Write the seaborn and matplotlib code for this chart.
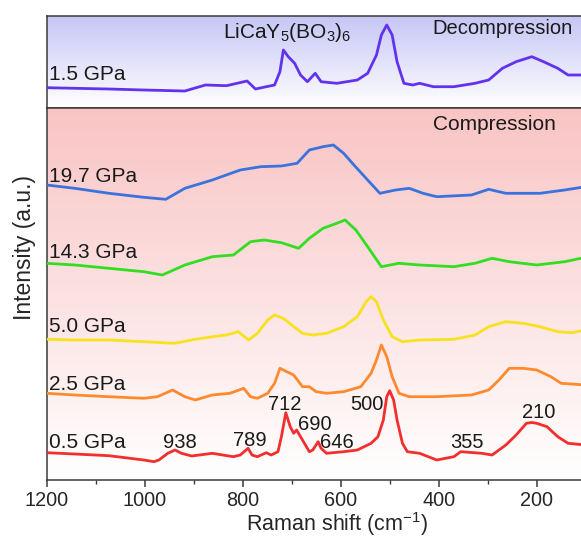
import numpy as np
import matplotlib
matplotlib.use("Agg")
import matplotlib.pyplot as plt
from matplotlib.colors import LinearSegmentedColormap
import seaborn as sns

# ---- Raman spectra (wavenumber in cm^-1, intensity in a.u. incl. stacking offset) ----
wn_15 = [1200, 1143, 1073, 1002, 918, 876, 833, 791, 774, 735, 724, 717, 707, 694, 682,
         668, 652, 640, 608, 566, 545, 527, 517, 506, 495, 485, 471, 453, 439, 411, 369,
         326, 298, 270, 242, 210, 186, 157, 136, 100]
int_15 = [20.3, 19.7, 19.0, 18.0, 17.0, 23.0, 22.3, 27.0, 19.0, 23.0, 36.3, 58.0, 51.3,
          44.7, 33.0, 26.3, 34.7, 26.3, 24.7, 28.0, 34.7, 53.0, 73.0, 83.0, 73.0, 46.3,
          24.7, 23.0, 24.7, 21.3, 21.3, 24.7, 28.0, 39.7, 46.3, 51.3, 46.3, 39.7, 33.0, 33.0]

wn_197 = [1200, 1143, 1073, 1002, 957, 918, 862, 805, 763, 721, 689, 664, 636, 615, 594,
          573, 545, 520, 488, 460, 432, 404, 333, 298, 263, 193, 143, 100]
int_197 = [295.0, 291.7, 286.7, 282.7, 280.7, 291.7, 300.0, 310.0, 313.3, 314.0, 316.7,
           330.0, 333.3, 335.0, 326.7, 315.0, 300.0, 286.7, 290.0, 291.7, 286.7, 283.3,
           285.0, 290.7, 286.7, 286.7, 290.0, 293.3]

wn_143 = [1200, 1143, 1073, 1002, 964, 918, 862, 819, 784, 756, 721, 686, 664, 636, 608,
          591, 569, 545, 517, 481, 439, 369, 326, 291, 256, 200, 143, 100]
int_143 = [216.7, 215.0, 211.7, 208.3, 205.0, 215.0, 223.3, 225.0, 238.3, 240.0, 237.3,
           231.7, 241.7, 251.7, 256.7, 260.0, 250.0, 233.3, 213.3, 216.7, 215.0, 213.3,
           216.7, 221.7, 218.3, 215.0, 218.3, 222.7]

wn_50 = [1200, 1143, 1073, 1002, 939, 897, 862, 833, 809, 788, 770, 749, 735, 717, 700,
         678, 657, 629, 594, 566, 548, 538, 527, 513, 495, 474, 439, 369, 326, 298, 263,
         228, 193, 157, 129, 100]
int_50 = [140.7, 140.0, 140.0, 138.3, 136.7, 140.7, 143.3, 145.0, 148.3, 140.0, 146.7,
          160.0, 165.0, 161.7, 155.0, 146.7, 145.0, 146.7, 153.3, 163.3, 178.3, 183.3,
          178.3, 160.0, 143.3, 138.3, 140.0, 140.7, 145.0, 153.3, 158.3, 156.7, 153.3,
          148.3, 147.3, 150.0]

wn_25 = [1200, 1143, 1073, 1002, 974, 943, 918, 897, 862, 826, 798, 784, 770, 749, 735,
         724, 710, 696, 678, 664, 650, 629, 594, 559, 538, 527, 517, 506, 495, 481, 460,
         404, 333, 298, 277, 256, 228, 200, 171, 150, 100]
int_25 = [86.7, 85.0, 83.3, 81.7, 83.3, 90.0, 83.3, 80.0, 85.0, 86.7, 91.7, 83.3, 81.7,
          86.7, 96.7, 111.7, 108.3, 105.0, 93.3, 93.3, 88.3, 86.7, 88.3, 93.3, 106.7,
          120.0, 135.0, 123.3, 103.3, 86.7, 83.3, 83.3, 85.0, 90.0, 100.0, 111.7, 111.7,
          110.0, 103.3, 96.7, 95.0]

wn_05 = [1200, 1143, 1073, 1002, 981, 971, 953, 938, 925, 904, 862, 819, 805, 789, 781,
         770, 752, 742, 728, 721, 712, 703, 696, 690, 678, 664, 657, 646, 640, 629, 594,
         566, 538, 524, 513, 506, 500, 492, 485, 474, 464, 439, 404, 369, 355, 312, 291,
         263, 242, 221, 210, 200, 179, 157, 136, 100]
int_05 = [27.3, 26.0, 24.3, 20.0, 18.3, 20.0, 26.7, 30.0, 26.7, 24.0, 26.7, 23.3, 25.0,
          31.7, 25.0, 23.3, 27.3, 25.0, 28.3, 43.3, 67.3, 53.3, 46.7, 50.0, 40.0, 28.3,
          30.0, 38.3, 31.7, 26.7, 28.3, 30.0, 36.7, 43.3, 60.0, 83.3, 89.3, 80.0, 60.0,
          36.7, 28.3, 26.7, 20.0, 23.3, 28.3, 26.7, 25.0, 35.0, 45.0, 56.7, 57.5, 56.7,
          53.3, 43.3, 36.7, 35.0]

# pressure labels, colours and text heights for the compression stack
comp_labels = ["19.7 GPa", "14.3 GPa", "5.0 GPa", "2.5 GPa", "0.5 GPa"]
comp_wn = [wn_197, wn_143, wn_50, wn_25, wn_05]
comp_int = [int_197, int_143, int_50, int_25, int_05]
comp_colors = ["#3b72dc", "#33dd22", "#f6e21e", "#ff8a2e", "#f22e2e"]
comp_label_y = [304, 228, 153, 96, 37]

# assigned peaks of the 0.5 GPa spectrum and where their labels sit
peak_values = [938, 789, 712, 690, 646, 500, 355, 210]
peak_text_x = [928, 786, 714, 652, 608, 546, 342, 195]
peak_text_y = [37, 40, 76, 55.5, 38, 75, 38, 67]

sns.set_theme(style="white")
plt.rcParams["font.family"] = ["Liberation Sans", "DejaVu Sans"]
plt.rcParams["mathtext.fontset"] = "custom"
plt.rcParams["mathtext.rm"] = "Liberation Sans"
plt.rcParams["mathtext.it"] = "Liberation Sans:italic"
plt.rcParams["mathtext.bf"] = "Liberation Sans:bold"

W, H = 581, 540
fig = plt.figure(figsize=(W / 100, H / 100), dpi=100)

x0 = 46.7
px_per_wn = 0.49
XMAX, XMIN = 1200, 0
ax_w = (XMAX - XMIN) * px_per_wn
ax_top = fig.add_axes([x0 / W, 1 - 108 / H, ax_w / W, 92 / H])
ax_bot = fig.add_axes([x0 / W, 1 - 480 / H, ax_w / W, 372 / H])


def gradient(ax, color):
    cmap = LinearSegmentedColormap.from_list("bg", ["#ffffff", color])
    grad = np.linspace(0, 1, 256)[:, None]
    ax.imshow(grad, extent=[0, 1, 0, 1], transform=ax.transAxes, origin="lower",
              aspect="auto", cmap=cmap, zorder=0, interpolation="bicubic")


gradient(ax_top, "#c6c6f6")
gradient(ax_bot, "#f9c4c4")

lw = 2.0
sns.lineplot(x=wn_15, y=int_15, ax=ax_top, color="#6233ee", lw=lw,
             sort=False, estimator=None, zorder=3)
for wn, it, col in zip(comp_wn, comp_int, comp_colors):
    sns.lineplot(x=wn, y=it, ax=ax_bot, color=col, lw=lw,
                 sort=False, estimator=None, zorder=3)

for ax, ytop in ((ax_top, 92), (ax_bot, 372)):
    ax.set_xlim(XMAX, XMIN)
    ax.set_ylim(0, ytop)
    ax.set_yticks([])
    ax.set_ylabel("")
    for sp in ax.spines.values():
        sp.set_color("#3a3a3a")
        sp.set_linewidth(1.1)

ax_top.set_xticks([])

ax_bot.set_xticks([1200, 1000, 800, 600, 400, 200])
ax_bot.set_xticks([1100, 900, 700, 500, 300], minor=True)
ax_bot.tick_params(axis="x", which="major", direction="out", length=5, width=1.1,
                   color="#3a3a3a", labelsize=14.3, pad=3, bottom=True)
ax_bot.tick_params(axis="x", which="minor", direction="out", length=3, width=1.0,
                   color="#3a3a3a", bottom=True)
ax_bot.set_xlabel("Raman shift (cm$^{-1}$)", fontsize=15.5, labelpad=2)
ax_bot.xaxis.set_label_coords((337 - x0) / ax_w, -0.082)

fig.text(25 / W, 1 - 248 / H, "Intensity (a.u.)", rotation=90, ha="center",
         va="center", fontsize=16.5)

# panel annotations
txt = dict(color="#1a1a1a")
ax_top.text(1200 - (49 - x0) / px_per_wn, 108 - 75, "1.5 GPa", ha="left",
            va="center", fontsize=15, **txt)
ax_top.text(1200 - (287 - x0) / px_per_wn, 108 - 32, "LiCaY$_5$(BO$_3$)$_6$",
            ha="center", va="center", fontsize=15, **txt)
ax_top.text(1200 - (432 - x0) / px_per_wn, 108 - 29, "Decompression", ha="left",
            va="center", fontsize=14.5, **txt)
ax_bot.text(1200 - (494 - x0) / px_per_wn, 480 - 124, "Compression", ha="center",
            va="center", fontsize=15, **txt)

for lab, y in zip(comp_labels, comp_label_y):
    ax_bot.text(1200 - (49 - x0) / px_per_wn, y, lab, ha="left", va="center",
                fontsize=15, zorder=4, **txt)

for val, tx, ty in zip(peak_values, peak_text_x, peak_text_y):
    ax_bot.text(tx, ty, str(val), ha="center", va="center", fontsize=14.5,
                zorder=4, **txt)

fig.savefig("out.png", dpi=100)
